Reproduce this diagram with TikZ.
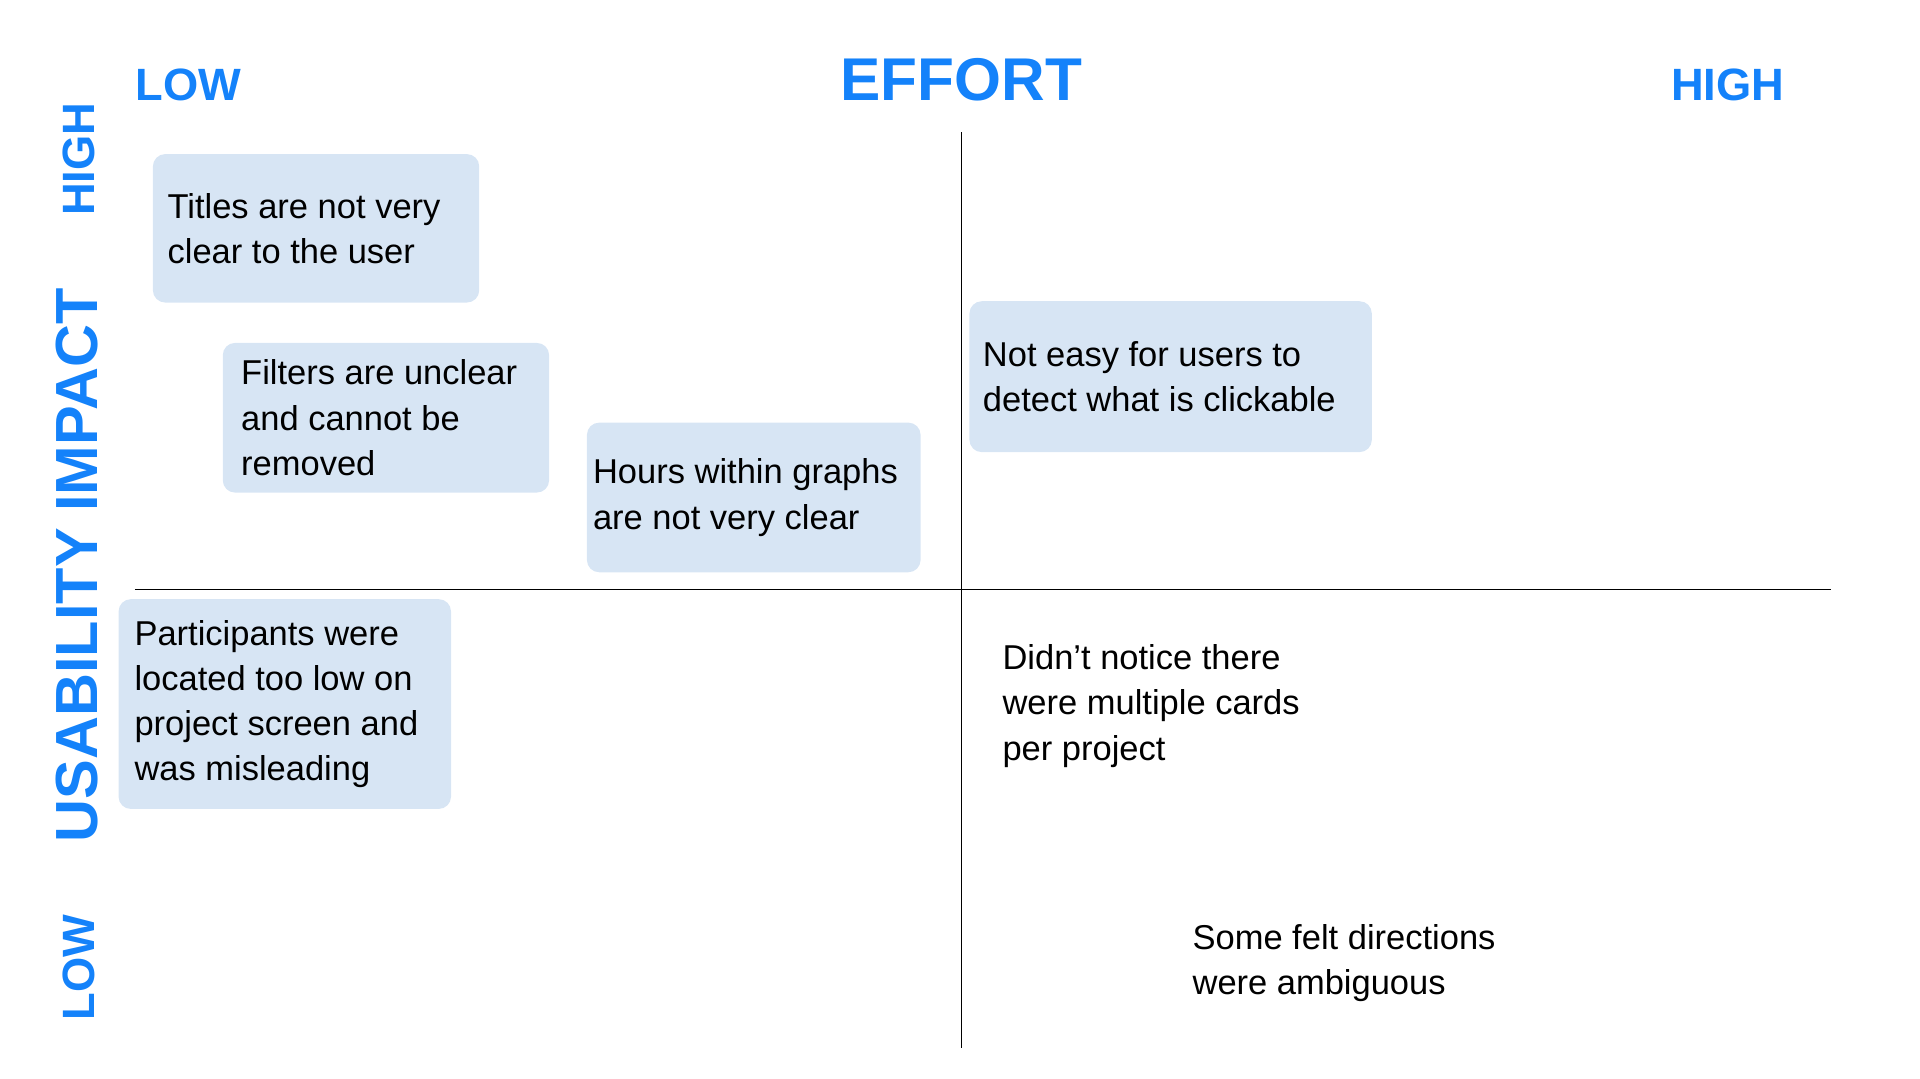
\documentclass[tikz,border=0pt]{standalone}
\usepackage{fontspec}
\setmainfont{Liberation Sans}
\definecolor{axisblue}{RGB}{20,130,250}
\definecolor{cardfill}{RGB}{215,229,244}
\tikzset{
  axislabel/.style={text=axisblue,font=\bfseries\fontsize{10.5pt}{12pt}\selectfont,inner sep=0pt},
  card/.style={fill=cardfill,rounded corners=0.1cm,align=flush left,anchor=north west,
    inner xsep=0.1cm,inner ysep=0pt,font=\fontsize{8pt}{10.5pt}\selectfont},
  note/.style={align=left,anchor=north west,inner sep=0pt,font=\fontsize{8pt}{10.5pt}\selectfont}
}
\begin{document}
\begin{tikzpicture}[x=0.01cm,y=-0.01cm]
    \useasboundingbox (0,0) rectangle (1566,880);
    % axes
    \coordinate (top) at (784,108);
    \coordinate (bottom) at (784,855);
    \coordinate (left) at (110,481);
    \coordinate (right) at (1493,481);
    \draw[line width=0.3pt] (top) -- (bottom);
    \draw[line width=0.3pt] (left) -- (right);

    % axis titles
    \node[axislabel,anchor=base west] (effortlow) at (110,82) {LOW};
    \node[axislabel,anchor=base,font=\bfseries\fontsize{14pt}{16pt}\selectfont] (effort) at (784,82) {EFFORT};
    \node[axislabel,anchor=base east] (efforthigh) at (1456,82) {HIGH};
    \node[axislabel,rotate=90] (impacthigh) at (64,130) {HIGH};
    \node[axislabel,rotate=90,font=\bfseries\fontsize{13.8pt}{16pt}\selectfont] (impact) at (63,461) {USABILITY IMPACT};
    \node[axislabel,rotate=90] (impactlow) at (64,789) {LOW};

    % cards
    \node[card,inner xsep=0.12cm,text width=2.42cm,minimum height=1.21cm] (titles) at (124,125) {Titles are not very\\clear to the user};
    \node[card,inner xsep=0.15cm,text width=2.36cm,minimum height=1.22cm] (filters) at (181,279) {Filters are unclear\\and cannot be\\removed};
    \node[card,inner xsep=0.05cm,text width=2.62cm,minimum height=1.22cm] (hours) at (478,344) {Hours within graphs\\are not very clear};
    \node[card,inner xsep=0.11cm,text width=3.06cm,minimum height=1.23cm] (clickable) at (790,245) {Not easy for users to\\detect what is clickable};
    \node[card,inner xsep=0.13cm,text width=2.45cm,minimum height=1.71cm] (participants) at (96,488) {Participants were\\located too low on\\project screen and\\was misleading};

    % plain notes
    \node[note] (cards) at (817,525) {Didn’t notice there\\were multiple cards\\per project};
    \node[note] (directions) at (972,753) {Some felt directions\\were ambiguous};
\end{tikzpicture}
\end{document}
